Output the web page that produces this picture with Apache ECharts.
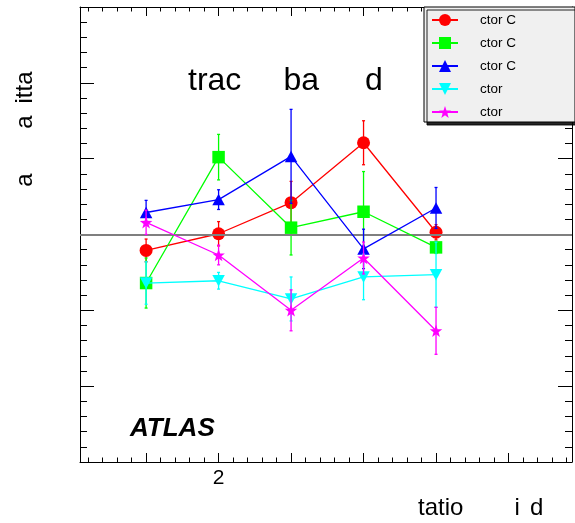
<!DOCTYPE html>
<html><head><meta charset="utf-8">
<script src="https://cdn.jsdelivr.net/npm/echarts@6/dist/echarts.min.js"></script>
<style>html,body{margin:0;padding:0;background:#fff}#c{width:575px;height:523px}</style>
</head><body><div id="c"></div>
<script>
// ---- data ----
const xValues = [1, 2, 3, 4, 5];
const seriesLabels = ['ctor C', 'ctor C', 'ctor C', 'ctor', 'ctor'];
const redValues = [-0.21, 0.01, 0.42, 1.21, 0.03];
const redErrors = [0.15, 0.16, 0.28, 0.29, 0.10];
const greenValues = [-0.64, 1.02, 0.09, 0.30, -0.17];
const greenErrors = [0.33, 0.30, 0.36, 0.53, 0.08];
const blueValues = [0.29, 0.46, 1.03, -0.19, 0.35];
const blueErrors = [0.16, 0.13, 0.62, 0.26, 0.27];
const cyanValues = [-0.64, -0.61, -0.85, -0.56, -0.53];
const cyanErrors = [0.28, 0.11, 0.29, 0.30, 0.43];
const magentaValues = [0.16, -0.27, -1.00, -0.31, -1.27];
const magentaErrors = [0.16, 0.13, 0.27, 0.21, 0.31];
const xTickLabels = [2];
const xMin = 0.088, xMax = 6.876;
const yMin = -3, yMax = 3;

const FONT = '"Liberation Sans", Arial, Helvetica, sans-serif';
const STAR = 'path://M0,-10 L2.35,-3.24 L9.51,-3.09 L3.8,1.24 L5.88,8.09 L0,4 L-5.88,8.09 L-3.8,1.24 L-9.51,-3.09 L-2.35,-3.24 Z';

const groups = [
  {vals: redValues, errs: redErrors, color: '#ff0000', symbol: 'circle', size: 13, rot: 0},
  {vals: greenValues, errs: greenErrors, color: '#00ff00', symbol: 'rect', size: 12.5, rot: 0},
  {vals: blueValues, errs: blueErrors, color: '#0000ff', symbol: 'triangle', size: [12.5, 11.5], rot: 0},
  {vals: cyanValues, errs: cyanErrors, color: '#00ffff', symbol: 'triangle', size: [12.5, 11.5], rot: 180},
  {vals: magentaValues, errs: magentaErrors, color: '#ff00ff', symbol: STAR, size: 12.5, rot: 0}
];

const series = [];
series.push({
  type: 'line', name: 'zero', data: [], z: 1, silent: true,
  markLine: {silent: true, symbol: 'none', label: {show: false}, animation: false,
    lineStyle: {color: '#7f7f7f', width: 2, type: 'solid'},
    emphasis: {disabled: true},
    data: [{yAxis: 0}]}
});
groups.forEach((g, i) => {
  const name = seriesLabels[i] + '#' + i;
  series.push({
    type: 'custom', name: 'err' + i, z: 2 + 2 * i, silent: true,
    data: xValues.map((x, k) => [x, g.vals[k], g.errs[k]]),
    encode: {x: 0, y: 1},
    renderItem: function (params, api) {
      const x = api.value(0), y = api.value(1), e = api.value(2);
      const t = api.coord([x, y + e]), b = api.coord([x, y - e]);
      const st = {stroke: g.color, lineWidth: 1.3};
      return {type: 'group', children: [
        {type: 'line', shape: {x1: t[0], y1: t[1], x2: b[0], y2: b[1]}, style: st},
        {type: 'line', shape: {x1: t[0] - 1.5, y1: t[1], x2: t[0] + 1.5, y2: t[1]}, style: st},
        {type: 'line', shape: {x1: b[0] - 1.5, y1: b[1], x2: b[0] + 1.5, y2: b[1]}, style: st}
      ]};
    }
  });
  series.push({
    type: 'line', name: name, z: 3 + 2 * i, color: g.color,
    data: xValues.map((x, k) => [x, g.vals[k]]),
    symbol: g.symbol, symbolSize: g.size, symbolRotate: g.rot, showSymbol: true,
    lineStyle: {color: g.color, width: 1.3},
    itemStyle: {color: g.color, borderWidth: 0},
    emphasis: {disabled: true}
  });
});

const tickCommon = (len, mlen) => ({
  axisLine: {show: true, onZero: false, lineStyle: {color: '#000', width: 1}},
  axisTick: {show: true, inside: true, length: len, lineStyle: {color: '#000', width: 1}},
  minorTick: {show: true, splitNumber: 5, length: mlen, lineStyle: {color: '#000', width: 1}},
  splitLine: {show: false}, minorSplitLine: {show: false}
});

const option = {
  animation: false,
  backgroundColor: '#fff',
  grid: {left: 80, right: 3, top: 7, bottom: 61, containLabel: false},
  xAxis: [
    Object.assign({type: 'value', position: 'bottom', min: xMin, max: xMax, splitNumber: 6,
      axisLabel: {show: true, margin: 6, color: '#000', fontSize: 21, fontFamily: FONT,
        showMinLabel: true, showMaxLabel: true,
        formatter: v => (xTickLabels.indexOf(Math.round(v * 1000) / 1000) >= 0 ? String(v) : '')}
    }, tickCommon(9, 4.5)),
    Object.assign({type: 'value', position: 'top', min: xMin, max: xMax, splitNumber: 6,
      axisLabel: {show: false}}, tickCommon(9, 4.5))
  ],
  yAxis: [
    Object.assign({type: 'value', position: 'left', min: yMin, max: yMax, interval: 1,
      axisLabel: {show: false}}, tickCommon(14, 7)),
    Object.assign({type: 'value', position: 'right', min: yMin, max: yMax, interval: 1,
      axisLabel: {show: false}}, tickCommon(14, 7))
  ],
  legend: {
    show: true, orient: 'vertical', left: 424, top: 7,
    padding: [6, 59, 3, 7],
    itemWidth: 26, itemHeight: 15, itemGap: 9,
    backgroundColor: '#f0f0f0', borderColor: '#000', borderWidth: 1,
    shadowColor: 'rgba(0,0,0,0.85)', shadowBlur: 0, shadowOffsetX: 3, shadowOffsetY: 3,
    selectedMode: false,
    data: seriesLabels.map((s, i) => s + '#' + i),
    formatter: n => n.replace(/#\d+$/, ''),
    textStyle: {color: '#000', fontSize: 13.5, fontFamily: FONT, padding: [0, 0, 0, 17]}
  },
  graphic: [
    {type: 'text', x: 188, y: 81, style: {text: 'trac', font: '32px ' + FONT, fill: '#000', align: 'left', verticalAlign: 'middle'}},
    {type: 'text', x: 283.5, y: 81, style: {text: 'ba', font: '32px ' + FONT, fill: '#000', align: 'left', verticalAlign: 'middle'}},
    {type: 'text', x: 365, y: 81, style: {text: 'd', font: '32px ' + FONT, fill: '#000', align: 'left', verticalAlign: 'middle'}},
    {type: 'text', x: 25, y: 87.5, rotation: Math.PI / 2, style: {text: 'itta', font: '24px ' + FONT, fill: '#000', align: 'center', verticalAlign: 'middle'}},
    {type: 'text', x: 25, y: 122, rotation: Math.PI / 2, style: {text: 'a', font: '24px ' + FONT, fill: '#000', align: 'center', verticalAlign: 'middle'}},
    {type: 'text', x: 25, y: 180, rotation: Math.PI / 2, style: {text: 'a', font: '24px ' + FONT, fill: '#000', align: 'center', verticalAlign: 'middle'}},
    {type: 'text', x: 418, y: 508, style: {text: 'tatio', font: '24px ' + FONT, fill: '#000', align: 'left', verticalAlign: 'middle'}},
    {type: 'text', x: 514.5, y: 508, style: {text: 'i', font: '24px ' + FONT, fill: '#000', align: 'left', verticalAlign: 'middle'}},
    {type: 'text', x: 530, y: 508, style: {text: 'd', font: '24px ' + FONT, fill: '#000', align: 'left', verticalAlign: 'middle'}},
    {type: 'text', x: 130, y: 428.5, style: {text: 'ATLAS', font: 'italic bold 26px ' + FONT, fill: '#000', align: 'left', verticalAlign: 'middle'}}
  ],
  series: series
};
const chart = echarts.init(document.getElementById('c'), null, {renderer: 'canvas'});
chart.setOption(option);
</script>
</body></html>
